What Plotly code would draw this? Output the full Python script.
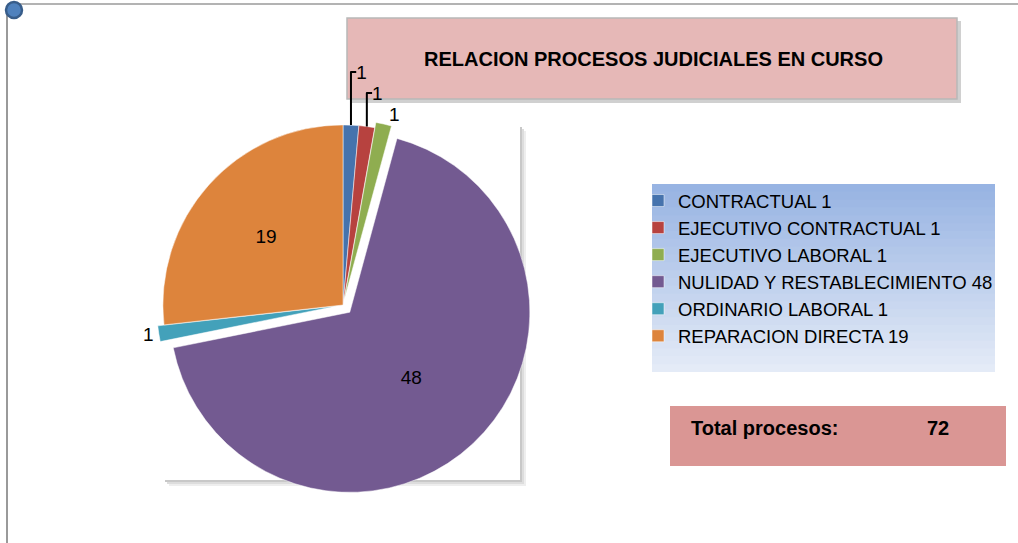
import plotly.graph_objects as go

# data
categories = ["CONTRACTUAL", "EJECUTIVO CONTRACTUAL", "EJECUTIVO LABORAL",
              "NULIDAD Y RESTABLECIMIENTO", "ORDINARIO LABORAL", "REPARACION DIRECTA"]
values = [1, 1, 1, 48, 1, 19]
colors = ["#4673ad", "#b7423f", "#8fad50", "#735a91", "#43a1ba", "#dd843c"]
pulls = [0.0, 0.0, 0.03, 0.055, 0.035, 0.0]
title_text = "RELACION PROCESOS JUDICIALES EN CURSO"
total_label = "Total procesos:"
total_value = 72  # as printed on the original chart

W, H = 1018, 543
legend_labels = [f"{c} {v}" for c, v in zip(categories, values)]


def px(x):
    return x / W


def py(y):
    return 1 - y / H


# pie placement (center ~ (343, 305), radius ~ 180 px)
cx, cy, half = 343, 305, 190

fig = go.Figure(go.Pie(
    labels=legend_labels,
    values=values,
    text=[str(v) for v in values],
    textinfo="text",
    textposition=["outside", "outside", "outside", "inside", "outside", "inside"],
    insidetextorientation="horizontal",
    sort=False,
    direction="clockwise",
    rotation=0,
    pull=pulls,
    marker=dict(colors=colors, line=dict(color="#ffffff", width=0.5)),
    textfont=dict(family="Liberation Sans, Arial", size=19, color="#000000"),
    outsidetextfont=dict(family="Liberation Sans, Arial", size=19, color="#000000"),
    domain=dict(x=[px(cx - half), px(cx + half)], y=[py(cy + half), py(cy - half)]),
    hoverinfo="label+percent",
))

shapes = []
# page border lines
shapes.append(dict(type="line", xref="paper", yref="paper", x0=px(7), x1=px(7), y0=py(8), y1=py(543),
                   line=dict(color="#9a9a9a", width=2)))
shapes.append(dict(type="line", xref="paper", yref="paper", x0=px(18), x1=px(1018), y0=py(4), y1=py(4),
                   line=dict(color="#9a9a9a", width=1.5)))
# plot area box with shadow
for off, col in [(6, "#eeeeee"), (4, "#dddddd"), (2, "#c8c8c8")]:
    shapes.append(dict(type="rect", xref="paper", yref="paper", layer="below",
                       x0=px(163 + off), x1=px(520 + off), y0=py(125 + off), y1=py(480 + off),
                       fillcolor=col, line=dict(width=0)))
shapes.append(dict(type="rect", xref="paper", yref="paper", layer="below",
                   x0=px(163), x1=px(520), y0=py(125), y1=py(480),
                   fillcolor="#ffffff", line=dict(width=0)))
# legend gradient background (overlapping bands)
lx0, lx1, ly0, ly1 = 652, 995, 184, 372
nb = 24
step = (ly1 - ly0) / nb
for i in range(nb):
    t = i / (nb - 1)
    r = int(0x98 + (0xe4 - 0x98) * t)
    g = int(0xb4 + (0xeb - 0xb4) * t)
    b = int(0xe3 + (0xf7 - 0xe3) * t)
    top = ly0 + step * i
    bot = min(ly1, top + step + 1.5)
    shapes.append(dict(type="rect", xref="paper", yref="paper", layer="below",
                       x0=px(lx0), x1=px(lx1), y0=py(bot), y1=py(top),
                       fillcolor=f"rgb({r},{g},{b})", line=dict(width=0)))
# title box with shadow
shapes.append(dict(type="rect", xref="paper", yref="paper", layer="below",
                   x0=px(350), x1=px(961), y0=py(21), y1=py(103),
                   fillcolor="#d0d0d0", line=dict(width=0)))
shapes.append(dict(type="rect", xref="paper", yref="paper", layer="below",
                   x0=px(347), x1=px(957), y0=py(18), y1=py(99),
                   fillcolor="#e6b8b7", line=dict(color="#b8b8b8", width=1.5)))
# total box
shapes.append(dict(type="rect", xref="paper", yref="paper", layer="below",
                   x0=px(670), x1=px(1006), y0=py(406), y1=py(466),
                   fillcolor="#da9694", line=dict(width=0)))
# top-left marker
shapes.append(dict(type="circle", xref="paper", yref="paper",
                   x0=px(6), x1=px(22), y0=py(2), y1=py(18),
                   fillcolor="#4f81bd", line=dict(color="#385d8a", width=2.5)))

font_b = dict(family="Liberation Sans, Arial", size=20, color="#000000")
annotations = [
    dict(text=f"<b>{title_text}</b>", xref="paper", yref="paper", x=px(653), y=py(59),
         xanchor="center", yanchor="middle", showarrow=False, font=font_b),
    dict(text=f"<b>{total_label}</b>", xref="paper", yref="paper", x=px(689), y=py(428),
         xanchor="left", yanchor="middle", showarrow=False, font=font_b),
    dict(text=f"<b>{total_value}</b>", xref="paper", yref="paper", x=px(938), y=py(428),
         xanchor="center", yanchor="middle", showarrow=False, font=font_b),
]

fig.update_layout(
    width=W, height=H,
    margin=dict(l=0, r=0, t=0, b=0),
    paper_bgcolor="#ffffff",
    plot_bgcolor="#ffffff",
    shapes=shapes,
    annotations=annotations,
    showlegend=True,
    legend=dict(
        x=px(638), y=py(182), xanchor="left", yanchor="top",
        bgcolor="rgba(0,0,0,0)",
        font=dict(family="Liberation Sans, Arial", size=18.5, color="#000000"),
        tracegroupgap=0, itemwidth=30,
    ),
)

fig.write_html("out.html", config={"displayModeBar": False},
               post_script="document.body.style.margin='0';")
